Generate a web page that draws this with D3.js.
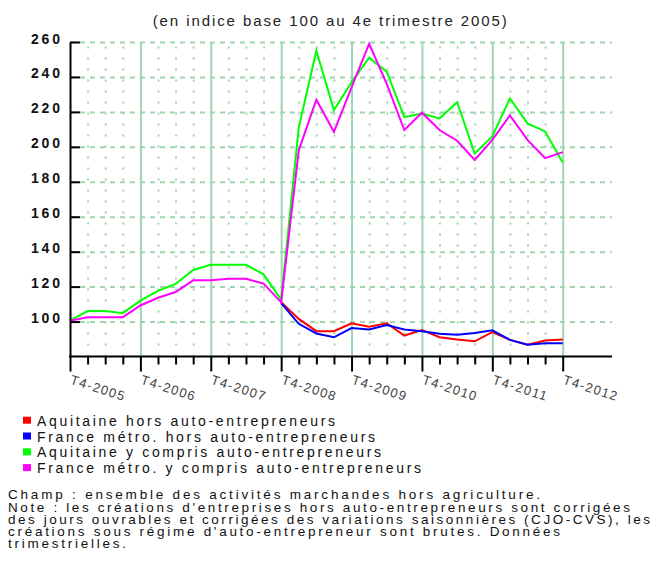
<!DOCTYPE html>
<html>
<head>
<meta charset="utf-8">
<script src="https://cdn.jsdelivr.net/npm/d3@7"></script>
<style>
  html, body { margin: 0; padding: 0; background: #fff; }
  svg { display: block; }
  text { font-family: "Liberation Sans", Arial, sans-serif; }
</style>
</head>
<body>
<svg id="chart" width="653" height="565"></svg>
<script>
const quarters = [
  "T4-2005","T1-2006","T2-2006","T3-2006","T4-2006","T1-2007","T2-2007","T3-2007",
  "T4-2007","T1-2008","T2-2008","T3-2008","T4-2008","T1-2009","T2-2009","T3-2009",
  "T4-2009","T1-2010","T2-2010","T3-2010","T4-2010","T1-2011","T2-2011","T3-2011",
  "T4-2011","T1-2012","T2-2012","T3-2012","T4-2012"
];
const tickLabels = ["T4-2005","T4-2006","T4-2007","T4-2008","T4-2009","T4-2010","T4-2011","T4-2012"];
const yTicks = [100, 120, 140, 160, 180, 200, 220, 240, 260];

const aquitaineHors = [null,null,null,null,null,null,null,null,null,null,null,null,
  111, 101.5, 94.5, 94.5, 99, 97, 99, 92, 95.2, 91, 89.7, 88.7, 94, 89.5, 86.7, 89.2, 89.7];
const franceHors = [null,null,null,null,null,null,null,null,null,null,null,null,
  110.5, 98.7, 93.2, 91, 96.3, 95.5, 98, 95.5, 94.5, 93, 92.4, 93.4, 95, 89.5, 86.7, 87.6, 87.6];
const aquitaineAE = [100.5, 106, 106, 104.8, 112, 117.6, 121.5, 129.5, 132.5, 132.5, 132.5, 127, 112.5,
  211, 255, 221, 237, 251, 243, 217, 219, 216.3, 225.5, 196.2, 206, 227.7, 213.4, 208.8, 191];
const franceAE = [100.5, 102.5, 102.5, 102.5, 109.2, 113.6, 116.9, 123.6, 123.6, 124.5, 124.5, 121.7, 111,
  198, 227, 208.6, 234, 259, 236, 209.6, 219.5, 209.6, 203.5, 192.5, 204, 218, 204, 193.5, 197];

const seriesNames = [
  "Aquitaine hors auto-entrepreneurs",
  "France métro. hors auto-entrepreneurs",
  "Aquitaine y compris auto-entrepreneurs",
  "France métro. y compris auto-entrepreneurs"
];
const seriesColors = ["#ff0000", "#0000ff", "#00ff00", "#ff00ff"];
const seriesValues = [aquitaineHors, franceHors, aquitaineAE, franceAE];

const titleText = "(en indice base 100 au 4e trimestre 2005)";
const noteLines = [
  "Champ : ensemble des activités marchandes hors agriculture.",
  "Note : les créations d'entreprises hors auto-entrepreneurs sont corrigées",
  "des jours ouvrables et corrigées des variations saisonnières (CJO-CVS), les",
  "créations sous régime d'auto-entrepreneur sont brutes. Données",
  "trimestrielles."
];

const svg = d3.select("#chart");
const pLeft = 70, pRight = 562.7, pTop = 42, pBottom = 356.5, gridRight = 612;
const x = d3.scalePoint().domain(quarters).range([pLeft, pRight]);
const y = d3.scaleLinear().domain([80, 260]).range([pBottom, pTop]);
const gridColor = "#9ed6b0";

// Title
svg.append("text").attr("x", 329.7).attr("y", 26).attr("text-anchor", "middle")
  .attr("font-size", 15).attr("fill", "#222")
  .attr("textLength", 354).attr("lengthAdjust", "spacing")
  .text(titleText);

// Grid: dotted quarter verticals
const gq = svg.append("g").attr("transform", `translate(0,${pBottom})`)
  .call(d3.axisBottom(x).tickValues(quarters.filter(q => !tickLabels.includes(q)))
    .tickSize(-(pBottom - pTop)).tickFormat(""));
gq.select(".domain").remove();
gq.selectAll("line").attr("stroke", gridColor).attr("stroke-width", 2)
  .attr("stroke-dasharray", "2,9");

// Grid: horizontal dashed
const gh = svg.append("g").attr("transform", `translate(${pLeft},0)`)
  .call(d3.axisLeft(y).tickValues(yTicks).tickSize(-(gridRight - pLeft)).tickFormat(""));
gh.select(".domain").remove();
gh.selectAll("line").attr("stroke", gridColor).attr("stroke-width", 2)
  .attr("stroke-dasharray", "5,5");

// Grid: solid year verticals
const gy = svg.append("g").attr("transform", `translate(0,${pBottom})`)
  .call(d3.axisBottom(x).tickValues(tickLabels.slice(1)).tickSize(-(pBottom - pTop)).tickFormat(""));
gy.select(".domain").remove();
gy.selectAll("line").attr("stroke", gridColor).attr("stroke-width", 2);

// Series
const line = d3.line()
  .defined(d => d.v !== null)
  .x(d => x(d.q)).y(d => y(d.v));
seriesValues.forEach((vals, i) => {
  svg.append("path")
    .datum(quarters.map((q, j) => ({ q, v: vals[j] })))
    .attr("fill", "none").attr("stroke", seriesColors[i]).attr("stroke-width", 2)
    .attr("stroke-linejoin", "miter")
    .attr("d", line);
});

// Y axis
const ya = svg.append("g").attr("transform", `translate(${pLeft},0)`)
  .call(d3.axisLeft(y).tickValues(yTicks).tickSizeInner(-10).tickSizeOuter(0).tickPadding(10));
ya.select(".domain").attr("stroke", "#000").attr("stroke-width", 2);
ya.selectAll(".tick line").attr("stroke", "#000").attr("stroke-width", 2);
ya.selectAll(".tick text")
  .attr("font-family", "'DejaVu Sans Mono', monospace").attr("font-weight", "bold")
  .attr("font-size", 14).attr("fill", "#111")
  .attr("dy", 0).attr("y", 1).attr("x", -10)
  .attr("textLength", 29).attr("lengthAdjust", "spacing");

// X axis
const xa = svg.append("g").attr("transform", `translate(0,${pBottom})`)
  .call(d3.axisBottom(x).tickValues(quarters).tickSizeOuter(0)
    .tickFormat(q => tickLabels.includes(q) ? q : ""));
xa.select(".domain").remove();
xa.append("line").attr("x1", pLeft - 1).attr("x2", gridRight).attr("y1", 0).attr("y2", 0)
  .attr("stroke", "#000").attr("stroke-width", 2);
xa.selectAll(".tick line").attr("stroke", "#000").attr("stroke-width", 2)
  .attr("y2", d => tickLabels.includes(d) ? 15 : 8);
xa.selectAll(".tick text")
  .attr("font-size", 13).attr("fill", "#444")
  .attr("text-anchor", "start").attr("dy", 0).attr("y", 0)
  .attr("transform", "translate(-1,27) rotate(18)")
  .attr("textLength", d => tickLabels.includes(d) ? 56 : null)
  .attr("lengthAdjust", "spacing");

// Legend
const legendBase = [425.7, 441.5, 457.3, 473.1];
const legendLen = [298, 338, 344, 384];
seriesNames.forEach((name, i) => {
  svg.append("rect").attr("x", 23).attr("y", legendBase[i] - 9).attr("width", 8).attr("height", 7)
    .attr("fill", seriesColors[i]);
  svg.append("text").attr("x", 37).attr("y", legendBase[i]).attr("font-size", 14).attr("fill", "#111")
    .attr("textLength", legendLen[i]).attr("lengthAdjust", "spacing").text(name);
});

// Notes
const noteBase = [499.3, 511.5, 523.5, 535.5, 547.5];
const noteLen = [532, 622, 642, 552, 118];
noteLines.forEach((t, i) => {
  svg.append("text").attr("x", 8).attr("y", noteBase[i]).attr("font-size", 13.5).attr("fill", "#111")
    .attr("textLength", noteLen[i]).attr("lengthAdjust", "spacing").text(t);
});
</script>
</body>
</html>
